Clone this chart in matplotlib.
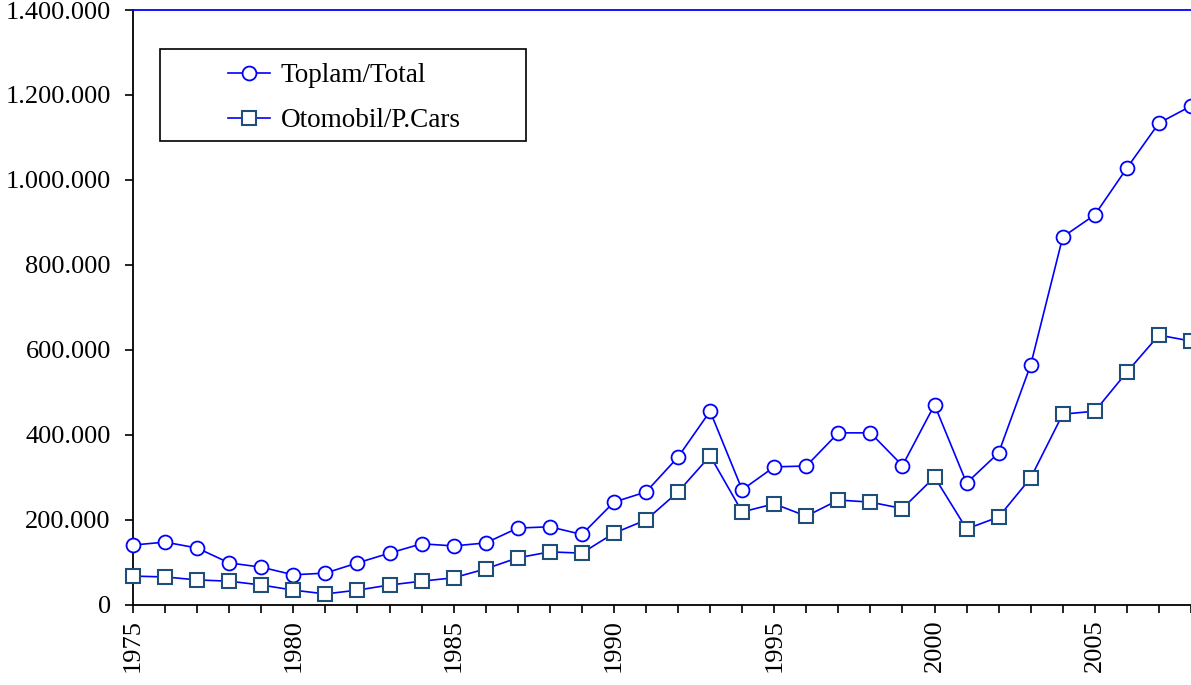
import numpy as np
import matplotlib.pyplot as plt
from matplotlib.patches import Rectangle
from matplotlib.ticker import FuncFormatter, MultipleLocator

years = list(range(1975, 2009))
total = [141000, 148000, 134000, 99000, 89000, 71000, 75000, 99000, 122000, 144000,
         139000, 146000, 181000, 184000, 166000, 242000, 266000, 348000, 456000, 271000,
         325000, 327000, 405000, 405000, 328000, 471000, 287000, 358000, 565000, 866000,
         918000, 1028000, 1134000, 1174000]
cars = [68000, 66000, 59000, 56000, 47000, 35000, 26000, 35000, 47000, 56000,
        64000, 85000, 111000, 125000, 122000, 169000, 200000, 266000, 351000, 219000,
        238000, 209000, 247000, 242000, 227000, 301000, 179000, 207000, 299000, 449000,
        456000, 548000, 635000, 621000]

plt.rcParams['font.family'] = ['Liberation Serif', 'DejaVu Serif']

fig = plt.figure(figsize=(11.91, 6.85), dpi=100)
ax = fig.add_axes([0.1117, 0.1168, 0.8883, 0.8686])

ax.plot(years, total, color='#0000FF', lw=1.2, marker='o', ms=10,
        mfc='white', mec='#0000FF', mew=1.3, label='Toplam/Total', clip_on=False, zorder=3)
ax.plot(years, cars, color='#0000FF', lw=1.2, marker='s', ms=10,
        mfc='white', mec='#1F4E79', mew=1.5, label='Otomobil/P.Cars', clip_on=False, zorder=3)

ax.set_xlim(1975, 2008)
ax.set_ylim(0, 1400000)
ax.yaxis.set_major_locator(MultipleLocator(200000))
ax.yaxis.set_major_formatter(FuncFormatter(lambda v, p: f"{int(v):,}".replace(',', '.')))
ax.xaxis.set_major_locator(MultipleLocator(5))
ax.xaxis.set_minor_locator(MultipleLocator(1))
ax.tick_params(axis='both', which='both', direction='out', length=6, width=1.2,
               labelsize=19, colors='black')
ax.tick_params(axis='y', pad=10)
ax.tick_params(axis='x', which='major', labelrotation=90, pad=4)

ax.spines['right'].set_visible(False)
ax.spines['top'].set_color('#0000FF')
ax.spines['top'].set_linewidth(1.3)
ax.spines['left'].set_linewidth(1.3)
ax.spines['bottom'].set_linewidth(1.3)

# legend box drawn separately: wide empty margins like the original
ax.add_patch(Rectangle((0.0255, 0.7798), 0.3463, 0.1547, transform=ax.transAxes,
                       facecolor='white', edgecolor='black', lw=1.2, zorder=4))
leg = ax.legend(loc='upper left', bbox_to_anchor=(0.0899, 0.9109), fontsize=19.5,
                frameon=False, handlelength=1.55, borderpad=0, labelspacing=0.75,
                borderaxespad=0, handletextpad=0.4)
leg.set_zorder(5)

fig.savefig('out.png', dpi=100)
